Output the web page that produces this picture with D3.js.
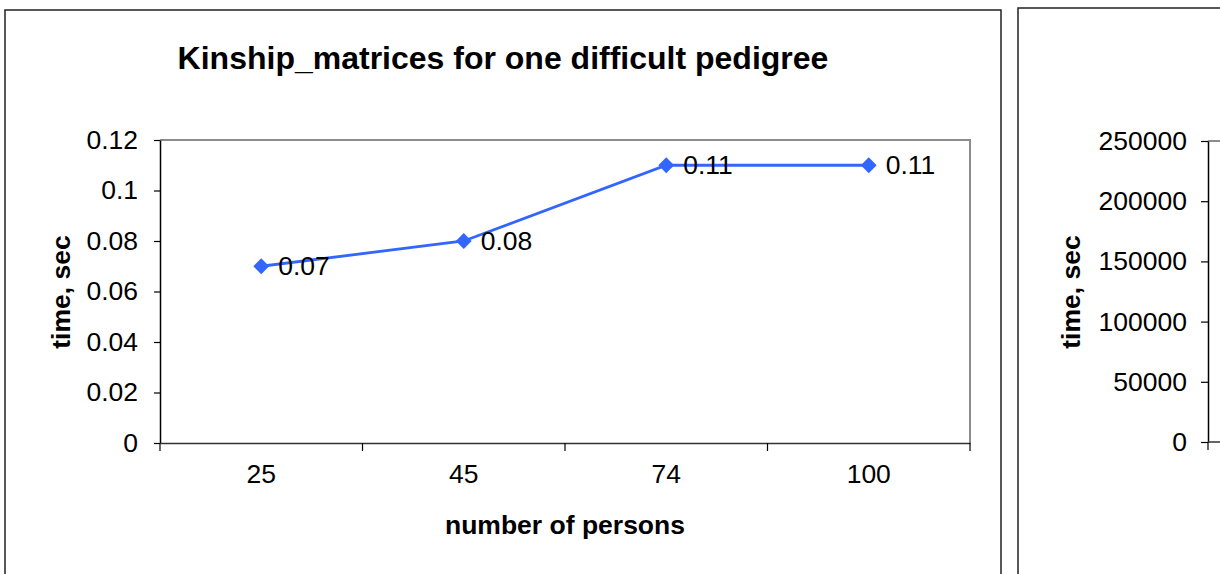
<!DOCTYPE html>
<html>
<head>
<meta charset="utf-8">
<script src="https://cdn.jsdelivr.net/npm/d3@7"></script>
<style>
  body { margin: 0; background: #fff; }
  svg { display: block; font-family: "Liberation Sans", Arial, sans-serif; }
</style>
</head>
<body>
<div id="chart"></div>
<script>
// data
const persons = ["25", "45", "74", "100"];
const times = [0.07, 0.08, 0.11, 0.11];
const yTicks = [0, 0.02, 0.04, 0.06, 0.08, 0.1, 0.12];
// second (cut off) chart
const yTicks2 = [0, 50000, 100000, 150000, 200000, 250000];

const width = 1220, height = 574;
const tickFont = 26.5;

let svg = d3.select("#chart")
    .append("svg")
    .attr("width", width)
    .attr("height", height);

// chart frames
svg.append("rect")
    .attr("x", 5).attr("y", 10)
    .attr("width", 996).attr("height", 600)
    .attr("fill", "none").attr("stroke", "#222").attr("stroke-width", 1.5);
svg.append("rect")
    .attr("x", 1018).attr("y", 8)
    .attr("width", 300).attr("height", 600)
    .attr("fill", "none").attr("stroke", "#222").attr("stroke-width", 1.5);

// ---- first chart ----
let x = d3.scaleBand().domain(persons).range([160, 970]);
let y = d3.scaleLinear().domain([0, 0.12]).range([443, 140]);

// plot area border (top/right gray)
svg.append("path")
    .attr("d", "M160,140H970V443")
    .attr("fill", "none").attr("stroke", "#8c8c8c").attr("stroke-width", 2);

// y axis
let yAxis = svg.append("g")
    .attr("transform", "translate(160,0)")
    .call(d3.axisLeft(y).tickValues(yTicks).tickFormat(d => String(d)).tickSize(6).tickPadding(16).tickSizeOuter(0));
yAxis.select(".domain").attr("stroke", "#000").attr("stroke-width", 1.5);
yAxis.selectAll(".tick line").attr("stroke", "#000").attr("stroke-width", 1.2);
yAxis.selectAll("text").attr("font-size", tickFont).attr("fill", "#000")
    .attr("font-family", "Liberation Sans, Arial, sans-serif");

// x axis
let xAxis = svg.append("g")
    .attr("transform", "translate(0,443)")
    .call(d3.axisBottom(x).tickSize(0).tickPadding(21));
xAxis.select(".domain").attr("stroke", "#333").attr("stroke-width", 1.5);
xAxis.selectAll("text").attr("font-size", tickFont).attr("fill", "#000")
    .attr("font-family", "Liberation Sans, Arial, sans-serif");
// boundary ticks between categories
let bounds = persons.map(p => x(p)).concat([x.range()[1]]);
svg.append("g").selectAll("line")
    .data(bounds)
    .enter()
    .append("line")
    .attr("x1", d => d).attr("x2", d => d)
    .attr("y1", 443).attr("y2", 451)
    .attr("stroke", "#000").attr("stroke-width", 1.2);

// line + markers
let cx = d => x(d) + x.bandwidth() / 2;
let line = d3.line()
    .x((d, i) => cx(persons[i]))
    .y(d => y(d));

svg.append("path")
    .datum(times)
    .attr("d", line)
    .attr("fill", "none")
    .attr("stroke", "#3366ff")
    .attr("stroke-width", 2.8);

svg.append("g").selectAll("path")
    .data(times)
    .enter()
    .append("path")
    .attr("d", d3.symbol().type(d3.symbolSquare).size(125))
    .attr("transform", (d, i) => "translate(" + cx(persons[i]) + "," + y(d) + ") rotate(45)")
    .attr("fill", "#3366ff");

svg.append("g").selectAll("text")
    .data(times)
    .enter()
    .append("text")
    .attr("x", (d, i) => cx(persons[i]) + 17)
    .attr("y", d => y(d) + 9)
    .attr("font-size", tickFont)
    .attr("fill", "#000")
    .text(d => String(d));

// titles
svg.append("text")
    .attr("x", 503).attr("y", 69)
    .attr("text-anchor", "middle")
    .attr("font-size", 32).attr("font-weight", "bold")
    .text("Kinship_matrices for one difficult pedigree");

svg.append("text")
    .attr("x", 565).attr("y", 534)
    .attr("text-anchor", "middle")
    .attr("font-size", 26.5).attr("font-weight", "bold")
    .text("number of persons");

svg.append("text")
    .attr("transform", "translate(70,292) rotate(-90)")
    .attr("text-anchor", "middle")
    .attr("font-size", 26.5).attr("font-weight", "bold")
    .text("time, sec");

// ---- second chart (cut off at the right edge) ----
let y2 = d3.scaleLinear().domain([0, 250000]).range([442, 141]);

svg.append("path")
    .attr("d", "M1208,141H1230")
    .attr("fill", "none").attr("stroke", "#8c8c8c").attr("stroke-width", 2);

let yAxis2 = svg.append("g")
    .attr("transform", "translate(1208,0)")
    .call(d3.axisLeft(y2).tickValues(yTicks2).tickFormat(d => String(d)).tickSize(7).tickPadding(14).tickSizeOuter(0));
yAxis2.select(".domain").attr("stroke", "#000").attr("stroke-width", 1.5);
yAxis2.selectAll(".tick line").attr("stroke", "#000").attr("stroke-width", 1.2);
yAxis2.selectAll("text").attr("font-size", tickFont).attr("fill", "#000")
    .attr("font-family", "Liberation Sans, Arial, sans-serif");

svg.append("line")
    .attr("x1", 1208).attr("x2", 1230)
    .attr("y1", 442).attr("y2", 442)
    .attr("stroke", "#333").attr("stroke-width", 1.5);
svg.append("line")
    .attr("x1", 1208).attr("x2", 1208)
    .attr("y1", 442).attr("y2", 450)
    .attr("stroke", "#000").attr("stroke-width", 1.2);

svg.append("text")
    .attr("transform", "translate(1080,292) rotate(-90)")
    .attr("text-anchor", "middle")
    .attr("font-size", 26.5).attr("font-weight", "bold")
    .text("time, sec");
</script>
</body>
</html>
